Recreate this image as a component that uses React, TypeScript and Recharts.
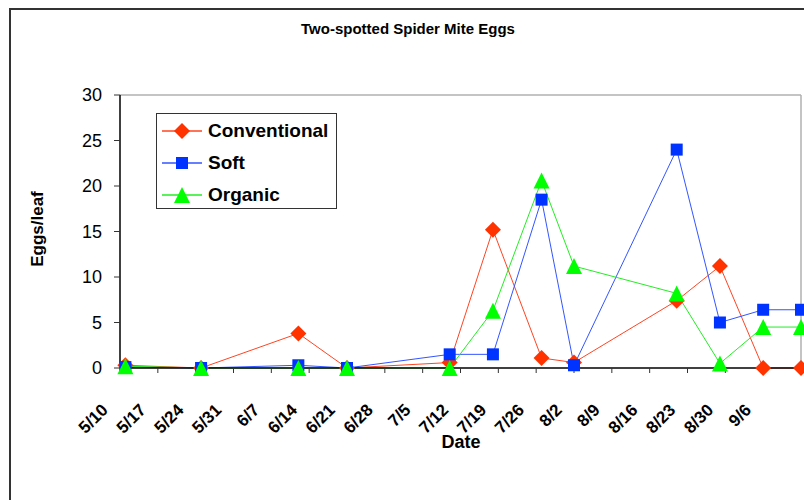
import React from 'react';
import { LineChart, Line, XAxis, YAxis, ReferenceLine, Legend } from 'recharts';

// sampling days, counted from 5/10
const sampleDays = [1, 15, 33, 42, 61, 69, 78, 84, 103, 111, 119, 126];
const conventional = [0.3, 0, 3.8, 0, 0.6, 15.2, 1.1, 0.6, 7.4, 11.2, 0, 0];
const soft = [0.1, 0, 0.3, 0, 1.5, 1.5, 18.5, 0.3, 24, 5, 6.4, 6.4];
const organic = [0.2, 0, 0, 0, 0, 6.3, 20.6, 11.2, 8.2, 0.5, 4.5, 4.5];

const tickDays = [0, 7, 14, 21, 28, 35, 42, 49, 56, 63, 70, 77, 84, 91, 98, 105, 112, 119, 126];
const tickLabels = ['5/10', '5/17', '5/24', '5/31', '6/7', '6/14', '6/21', '6/28', '7/5', '7/12', '7/19', '7/26', '8/2', '8/9', '8/16', '8/23', '8/30', '9/6', ''];
const yTicks = [0, 5, 10, 15, 20, 25, 30];

const data = sampleDays.map((d, i) => ({
  day: d,
  Conventional: conventional[i],
  Soft: soft[i],
  Organic: organic[i],
}));

const FONT = '"Liberation Sans", Arial, sans-serif';
const RED = '#ff3300';
const BLUE = '#0033ff';
const GREEN = '#00ff00';

const Diamond = ({ cx, cy, size = 8 }: any) => {
  if (cx == null || cy == null) return null;
  return <path d={`M${cx},${cy - size}L${cx + size},${cy}L${cx},${cy + size}L${cx - size},${cy}Z`} fill={RED} />;
};
const Square = ({ cx, cy, size = 6 }: any) => {
  if (cx == null || cy == null) return null;
  return <rect x={cx - size} y={cy - size} width={size * 2} height={size * 2} fill={BLUE} />;
};
const Triangle = ({ cx, cy, size = 8 }: any) => {
  if (cx == null || cy == null) return null;
  return <path d={`M${cx},${cy - size}L${cx + size},${cy + size}L${cx - size},${cy + size}Z`} fill={GREEN} />;
};

const DateTick = ({ x, y, payload }: any) => {
  const i = tickDays.indexOf(payload.value);
  const ax = x - 11;
  const ay = y + 36;
  return (
    <text x={ax} y={ay} transform={`rotate(-45 ${ax} ${ay})`} textAnchor="end" fontFamily={FONT} fontWeight="bold" fontSize={17} fill="#000">
      {tickLabels[i]}
    </text>
  );
};

const legendItems = [
  { name: 'Conventional', color: '#ff4422', Marker: Diamond },
  { name: 'Soft', color: '#3355ff', Marker: Square },
  { name: 'Organic', color: '#22ee22', Marker: Triangle },
];

const LegendBox = () => (
  <div style={{ width: 181, height: 96, border: '1.5px solid #333', background: '#fff', boxSizing: 'border-box', paddingTop: 1 }}>
    {legendItems.map(({ name, color, Marker }) => (
      <div key={name} style={{ display: 'flex', alignItems: 'center', height: 32 }}>
        <svg width={48} height={24} style={{ marginLeft: 3 }}>
          <line x1={2} y1={12} x2={42} y2={12} stroke={color} strokeWidth={1.5} />
          <Marker cx={22} cy={12} size={name === 'Soft' ? 6 : 8} />
        </svg>
        <span style={{ fontFamily: FONT, fontWeight: 'bold', fontSize: 19, color: '#000' }}>{name}</span>
      </div>
    ))}
  </div>
);

export default function App() {
  return (
    <div style={{ position: 'absolute', left: 0, top: 0, width: 804, height: 500, background: '#fff', overflow: 'hidden' }}>
      <div style={{ position: 'absolute', left: 9, top: 8, width: 795, height: 492, borderLeft: '2px solid #333', borderTop: '2px solid #333', boxSizing: 'border-box' }} />
      <div style={{ position: 'absolute', left: 0, top: 20, width: 816, textAlign: 'center', fontFamily: FONT, fontWeight: 'bold', fontSize: 15 }}>
        Two-spotted Spider Mite Eggs
      </div>
      <div style={{ position: 'absolute', left: 38, top: 229, transform: 'translate(-50%, -50%) rotate(-90deg)', fontFamily: FONT, fontWeight: 'bold', fontSize: 17, whiteSpace: 'nowrap' }}>
        Eggs/leaf
      </div>
      <div style={{ position: 'absolute', left: 461, top: 442, transform: 'translate(-50%, -50%)', fontFamily: FONT, fontWeight: 'bold', fontSize: 18 }}>
        Date
      </div>
      <div style={{ position: 'absolute', left: 0, top: 0 }}>
        <LineChart width={804} height={500} data={data} margin={{ top: 95, right: 3, bottom: 72, left: 60 }}>
          <XAxis
            dataKey="day"
            type="number"
            domain={[0, 126]}
            ticks={tickDays}
            interval={0}
            height={60}
            tick={<DateTick />}
            tickSize={5}
            axisLine={{ stroke: '#000', strokeWidth: 1.5 }}
            tickLine={{ stroke: '#333' }}
          />
          <YAxis
            type="number"
            domain={[0, 30]}
            ticks={yTicks}
            interval={0}
            width={60}
            tickSize={6}
            tickMargin={12}
            tick={{ fontFamily: FONT, fontSize: 18, fill: '#000' }}
            axisLine={{ stroke: '#000', strokeWidth: 1.5 }}
            tickLine={{ stroke: '#333' }}
          />
          <ReferenceLine y={30} stroke="#b0b0b0" strokeWidth={1.5} />
          <ReferenceLine x={126} stroke="#b0b0b0" strokeWidth={1.5} />
          <Legend
            layout="vertical"
            align="center"
            verticalAlign="middle"
            content={<LegendBox />}
            wrapperStyle={{ left: 156, top: 113, width: 181, height: 96 }}
          />
          <Line dataKey="Conventional" stroke="#ff4422" strokeWidth={1} dot={<Diamond />} activeDot={false} isAnimationActive={false} />
          <Line dataKey="Soft" stroke="#3355ff" strokeWidth={1} dot={<Square />} activeDot={false} isAnimationActive={false} />
          <Line dataKey="Organic" stroke="#22ee22" strokeWidth={1} dot={<Triangle />} activeDot={false} isAnimationActive={false} />
        </LineChart>
      </div>
    </div>
  );
}
